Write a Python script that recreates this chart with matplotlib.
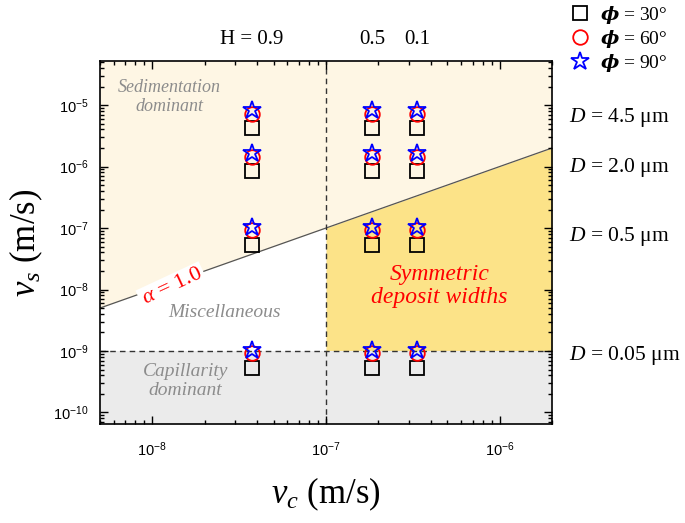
import numpy as np
import matplotlib
matplotlib.use("Agg")
import matplotlib.pyplot as plt
from matplotlib.ticker import LogLocator, FuncFormatter, NullFormatter
from matplotlib.transforms import blended_transform_factory
from matplotlib.lines import Line2D

plt.rcParams['mathtext.fontset'] = 'custom'
plt.rcParams['mathtext.rm'] = 'Liberation Serif'
plt.rcParams['mathtext.it'] = 'Liberation Serif:italic'
plt.rcParams['mathtext.bf'] = 'Liberation Serif:bold'
plt.rcParams['mathtext.bfit'] = 'DejaVu Serif:italic:bold'
plt.rcParams['font.family'] = ['Liberation Serif', 'DejaVu Serif']

# ---- data ----
vc_cols = [3.75e-8, 1.85e-7, 3.35e-7]
H_labels = ["H = 0.9", "0.5", "0.1"]
vs_phi30 = [4.2e-6, 8.4e-7, 5.3e-8, 5.3e-10]
vs_phi60 = [7.2e-6, 1.45e-6, 9.2e-8, 9.2e-10]
vs_phi90 = [8.4e-6, 1.65e-6, 1.02e-7, 1.02e-9]
D_labels = ["4.5", "2.0", "0.5", "0.05"]
D_ypos = [6.2e-6, 9.7e-7, 7.4e-8, 8.6e-10]
phi_labels = ["30°", "60°", "90°"]
vc_threshold = 1e-7
vs_threshold = 1e-9

xlim = (5e-9, 2e-6)
ylim = (6.5e-11, 5.2e-5)

fig = plt.figure(figsize=(6.85, 5.23), dpi=100)
ax = fig.add_axes([100/685, 1-424/523, 452/685, 363/523])
ax.set_xscale('log'); ax.set_yscale('log')
ax.set_xlim(*xlim); ax.set_ylim(*ylim)

cream = '#FEF6E4'; yellow = '#FCE388'; gray = '#EBEBEB'
xs = np.logspace(np.log10(xlim[0]), np.log10(xlim[1]), 200)
ax.fill_between(xs, xs, ylim[1], color=cream, lw=0, zorder=0)
xr = xs[xs >= vc_threshold]
xr = np.concatenate([[vc_threshold], xr])
ax.fill_between(xr, vs_threshold, xr, color=yellow, lw=0, zorder=0)
ax.fill_between(xs, ylim[0], vs_threshold, color=gray, lw=0, zorder=0)
ax.plot(xs, xs, color='#555555', lw=0.9, zorder=1)
ax.axvline(vc_threshold, color='#333333', ls=(0, (4, 3)), lw=1.0, zorder=1)
ax.axhline(vs_threshold, color='#333333', ls=(0, (4, 3)), lw=1.0, zorder=1)

for x in vc_cols:
    ax.plot([x]*len(vs_phi30), vs_phi30, ls='none', marker='s', ms=10, mfc='none', mec='black', mew=1.3, zorder=3)
    ax.plot([x]*len(vs_phi60), vs_phi60, ls='none', marker='o', ms=10.5, mfc='none', mec='red', mew=1.3, zorder=3)
    ax.plot([x]*len(vs_phi90), vs_phi90, ls='none', marker='*', ms=13.5, mfc='none', mec='blue', mew=1.3, zorder=4)

# ticks
ax.xaxis.set_major_locator(LogLocator(base=10, numticks=20))
ax.yaxis.set_major_locator(LogLocator(base=10, numticks=20))
ax.xaxis.set_minor_locator(LogLocator(base=10, subs=np.arange(2, 10), numticks=20))
ax.yaxis.set_minor_locator(LogLocator(base=10, subs=np.arange(2, 10), numticks=20))
fmt = FuncFormatter(lambda v, p: r'$\mathregular{10^{%d}}$' % int(round(np.log10(v))))
ax.xaxis.set_major_formatter(fmt); ax.yaxis.set_major_formatter(fmt)
ax.xaxis.set_minor_formatter(NullFormatter()); ax.yaxis.set_minor_formatter(NullFormatter())
ax.tick_params(which='both', direction='in', top=True, right=True, width=1.0)
ax.tick_params(which='major', length=6, labelsize=10.5, labelfontfamily='Liberation Sans', pad=8)
ax.tick_params(axis='x', which='major', pad=12)
ax.tick_params(which='minor', length=3)
for s in ax.spines.values():
    s.set_linewidth(1.2)

ax.set_xlabel(r'$v_c$ (m/s)', fontsize=25, labelpad=12)
ax.set_ylabel(r'$v_s$ (m/s)', fontsize=25, labelpad=6)

# region texts
ax.text(1.26e-8, 1.35e-5, 'Sedimentation\ndominant', style='italic', color='#8c8c8c', fontsize=13, ha='center', va='center', linespacing=1.15)
ax.text(2.6e-8, 4.3e-9, 'Miscellaneous', style='italic', color='#8c8c8c', fontsize=14, ha='center', va='center')
ax.text(1.55e-8, 3.2e-10, 'Capillarity\ndominant', style='italic', color='#8c8c8c', fontsize=14, ha='center', va='center', linespacing=1.15)
ax.text(4.5e-7, 1.14e-8, 'Symmetric\ndeposit widths', style='italic', color='red', fontsize=17, ha='center', va='center', linespacing=1.15)
ax.text(1.3e-8, 1.1e-8, r'$\alpha$ = 1.0', color='red', fontsize=16, ha='center', va='center', rotation=25,
        bbox=dict(facecolor='white', edgecolor='none', pad=2), zorder=2)

# top H labels
tr_top = blended_transform_factory(ax.transData, ax.transAxes)
for x, lab in zip(vc_cols, H_labels):
    ax.text(x, 1.058, lab, transform=tr_top, ha='center', va='center', fontsize=15)

# right D labels
tr_right = blended_transform_factory(ax.transAxes, ax.transData)
for y, lab in zip(D_ypos, D_labels):
    ax.text(1.038, y, r'$D$ = ' + lab + ' μm', transform=tr_right, ha='left', va='center', fontsize=15.5)

handles = [Line2D([], [], ls='none', marker='s', ms=10, mfc='none', mec='black', mew=1.3),
           Line2D([], [], ls='none', marker='o', ms=10.5, mfc='none', mec='red', mew=1.3),
           Line2D([], [], ls='none', marker='*', ms=13.5, mfc='none', mec='blue', mew=1.3)]
labels = [r'$\mathbfit{\phi}$ = ' + p for p in phi_labels]
fig.legend(handles, labels, loc='upper left', bbox_to_anchor=(553/685, 1.018), frameon=False,
           fontsize=14, handletextpad=0.3, labelspacing=0.1, borderpad=0.2, handlelength=1.4)

fig.savefig('out.png', dpi=100)
